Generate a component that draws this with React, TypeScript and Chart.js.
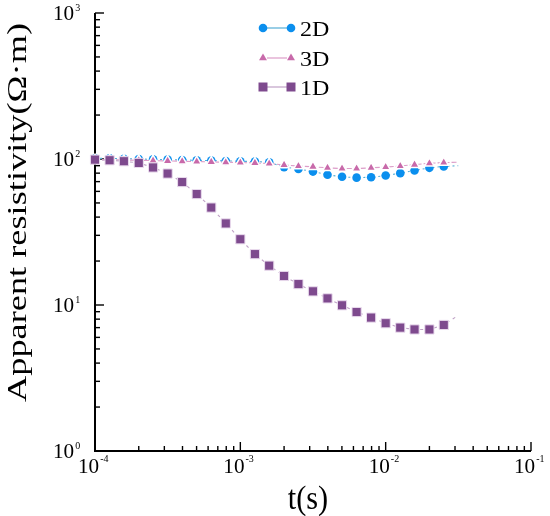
import React, { useEffect, useRef } from 'react'
import { Chart, registerables } from 'chart.js'

Chart.register(...registerables)

// time samples (s), 10 per decade
const TIMES = [
  1.0e-4, 1.26e-4, 1.58e-4, 2.0e-4, 2.51e-4, 3.16e-4, 3.98e-4, 5.01e-4, 6.31e-4, 7.94e-4,
  1.0e-3, 1.26e-3, 1.58e-3, 2.0e-3, 2.51e-3, 3.16e-3, 3.98e-3, 5.01e-3, 6.31e-3, 7.94e-3,
  1.0e-2, 1.26e-2, 1.58e-2, 2.0e-2, 2.51e-2, 3.16e-2,
]

// apparent resistivity (ohm*m)
const RHO_2D = [
  101, 101, 100.5, 100, 99.5, 99, 98.5, 98, 97.5, 97,
  96.5, 96, 95, 88, 85.5, 82, 78, 75.5, 74.5, 75,
  77, 80, 83.5, 87, 89, 90,
]
const RHO_3D = [
  99, 99, 98.5, 98, 97.5, 97, 96.5, 96, 95.5, 95,
  94.5, 94, 93, 91, 89.5, 88.5, 87, 86, 86, 87,
  88, 89.5, 91.5, 93.5, 94.5, 95,
]
const RHO_1D = [
  99, 98, 96.5, 94, 87.5, 79.5, 69.5, 57.5, 46.5, 36.2,
  28.2, 22.3, 18.6, 15.8, 13.9, 12.4, 11.1, 9.95, 8.95, 8.2,
  7.5, 7.0, 6.8, 6.8, 7.3, 8.5,
]

const X_EXPONENTS = [-4, -3, -2, -1]
const Y_EXPONENTS = [0, 1, 2, 3]
const MINOR_STEPS = [2, 3, 4, 5, 6, 7, 8, 9]

const SERIES = [
  { label: '2D', data: RHO_2D, color: '#0b8fee', line: '#55aed6', style: 'circle', order: 2 },
  { label: '3D', data: RHO_3D, color: '#c86aaa', line: '#dc9cc8', style: 'triangle', order: 1 },
  { label: '1D', data: RHO_1D, color: '#7e4a8e', line: '#bfa2c6', style: 'rect', order: 0 },
]

const FONT = '"Liberation Serif", "Times New Roman", serif'

function drawText(ctx: CanvasRenderingContext2D, text: string, x: number, y: number, size: number, hScale: number, align: string) {
  ctx.save()
  ctx.font = `${size}px ${FONT}`
  const w = ctx.measureText(text).width * hScale
  let left = x
  if (align === 'center') left = x - w / 2
  else if (align === 'right') left = x - w
  ctx.translate(left, y)
  ctx.scale(hScale, 1)
  ctx.textAlign = 'left'
  ctx.textBaseline = 'alphabetic'
  ctx.fillStyle = '#000'
  ctx.fillText(text, 0, 0)
  ctx.restore()
  return w
}

function drawMarker(ctx: CanvasRenderingContext2D, style: string, x: number, y: number, color: string) {
  ctx.save()
  ctx.fillStyle = color
  ctx.beginPath()
  if (style === 'circle') {
    ctx.arc(x, y, 4.3, 0, Math.PI * 2)
  } else if (style === 'triangle') {
    const r = 4.6
    ctx.moveTo(x, y - r)
    ctx.lineTo(x + r * 0.866, y + r * 0.5)
    ctx.lineTo(x - r * 0.866, y + r * 0.5)
    ctx.closePath()
  } else {
    ctx.rect(x - 4.5, y - 4.5, 9, 9)
  }
  ctx.fill()
  ctx.restore()
}

const logAxesPlugin = {
  id: 'logAxes',
  beforeDatasetsDraw(chart: any) {
    const { ctx, chartArea: a, scales } = chart
    const xs = scales.x
    const ys = scales.y
    ctx.save()
    ctx.strokeStyle = '#000'
    ctx.lineWidth = 2
    ctx.beginPath()
    ctx.moveTo(a.left, a.top)
    ctx.lineTo(a.left, a.bottom)
    ctx.lineTo(a.right, a.bottom)
    ctx.stroke()

    ctx.lineWidth = 1.4
    X_EXPONENTS.forEach((e) => {
      const px = xs.getPixelForValue(Math.pow(10, e))
      ctx.beginPath()
      ctx.moveTo(px, a.bottom)
      ctx.lineTo(px, a.bottom - 9)
      ctx.stroke()
      if (e < X_EXPONENTS[X_EXPONENTS.length - 1]) {
        MINOR_STEPS.forEach((m) => {
          const mx = xs.getPixelForValue(m * Math.pow(10, e))
          ctx.beginPath()
          ctx.moveTo(mx, a.bottom)
          ctx.lineTo(mx, a.bottom - 5)
          ctx.stroke()
        })
      }
    })
    Y_EXPONENTS.forEach((e) => {
      const py = ys.getPixelForValue(Math.pow(10, e))
      ctx.beginPath()
      ctx.moveTo(a.left, py)
      ctx.lineTo(a.left + 9, py)
      ctx.stroke()
      if (e < Y_EXPONENTS[Y_EXPONENTS.length - 1]) {
        MINOR_STEPS.forEach((m) => {
          const my = ys.getPixelForValue(m * Math.pow(10, e))
          ctx.beginPath()
          ctx.moveTo(a.left, my)
          ctx.lineTo(a.left + 5, my)
          ctx.stroke()
        })
      }
    })
    ctx.restore()
  },
  afterDraw(chart: any) {
    const { ctx, chartArea: a, scales } = chart
    const xs = scales.x
    const ys = scales.y

    // tick labels 10^n
    X_EXPONENTS.forEach((e) => {
      const px = xs.getPixelForValue(Math.pow(10, e))
      const w = drawText(ctx, '10', px - 17, a.bottom + 22, 20, 1.06, 'left')
      drawText(ctx, String(e), px - 17 + w + 1, a.bottom + 11, 10, 1, 'left')
    })
    Y_EXPONENTS.forEach((e) => {
      const py = ys.getPixelForValue(Math.pow(10, e))
      const w = drawText(ctx, '10', 53, py + 7, 20, 1.06, 'left')
      drawText(ctx, String(e), 53 + w + 1, py - 2, 10, 1, 'left')
    })

    // axis titles
    drawText(ctx, 't(s)', 308, 509, 33, 0.92, 'center')
    ctx.save()
    ctx.translate(26, 212.5)
    ctx.rotate(-Math.PI / 2)
    ctx.font = `27px ${FONT}`
    const title = 'Apparent resistivity(Ω·m)'
    const tw = ctx.measureText(title).width
    ctx.scale(379 / tw, 1)
    ctx.textAlign = 'center'
    ctx.textBaseline = 'alphabetic'
    ctx.fillStyle = '#000'
    ctx.fillText(title, 0, 0)
    ctx.restore()

    // legend
    const rows = [28, 58, 87]
    SERIES.forEach((s, i) => {
      const y = rows[i]
      ctx.save()
      ctx.strokeStyle = s.line
      ctx.lineWidth = 1.2
      ctx.beginPath()
      ctx.moveTo(267, y)
      ctx.lineTo(287, y)
      ctx.stroke()
      ctx.restore()
      drawMarker(ctx, s.style, 263, y, s.color)
      drawMarker(ctx, s.style, 291, y, s.color)
      drawText(ctx, s.label, 300, y + 7.5, 20, 1.2, 'left')
    })
  },
}

export default function App() {
  const canvasRef = useRef<HTMLCanvasElement>(null)

  useEffect(() => {
    if (!canvasRef.current) return
    const last = TIMES.length - 1
    const dash: Record<string, number[]> = { '2D': [2, 3], '3D': [5, 2], '1D': [3, 4] }
    const radius: Record<string, number> = { '2D': 4.3, '3D': 5.5, '1D': 6.5 }

    const chart = new Chart(canvasRef.current, {
      type: 'line',
      data: {
        datasets: SERIES.map((s) => ({
          label: s.label,
          data: TIMES.map((t, i) => ({ x: t, y: s.data[i] })),
          order: s.order,
          borderColor: s.line,
          borderWidth: 1.1,
          borderDash: dash[s.label],
          backgroundColor: s.color,
          pointStyle: s.style,
          pointBackgroundColor: s.color,
          pointBorderColor: s.label === '3D' ? '#ffffff' : s.label === '1D' ? '#eadcee' : s.color,
          pointBorderWidth: s.label === '2D' ? 0 : s.label === '3D' ? 1.5 : 1,
          pointRadius: (c: any) => (c.dataIndex === last ? 0 : radius[s.label]),
          tension: 0,
          fill: false,
          clip: false as any,
        })),
      },
      options: {
        responsive: true,
        maintainAspectRatio: false,
        animation: false,
        layout: { padding: { left: 95, top: 13, right: 19, bottom: 65 } },
        plugins: {
          legend: { display: false },
          tooltip: { enabled: false },
        },
        scales: {
          x: { type: 'logarithmic', min: 1e-4, max: 1e-1, display: false },
          y: { type: 'logarithmic', min: 1, max: 1000, display: false },
        },
      },
      plugins: [logAxesPlugin],
    })

    return () => {
      chart.destroy()
    }
  }, [])

  return (
    <div style={{ position: 'fixed', left: 0, top: 0, width: '550px', height: '516px', background: '#fff' }}>
      <canvas ref={canvasRef} />
    </div>
  )
}
